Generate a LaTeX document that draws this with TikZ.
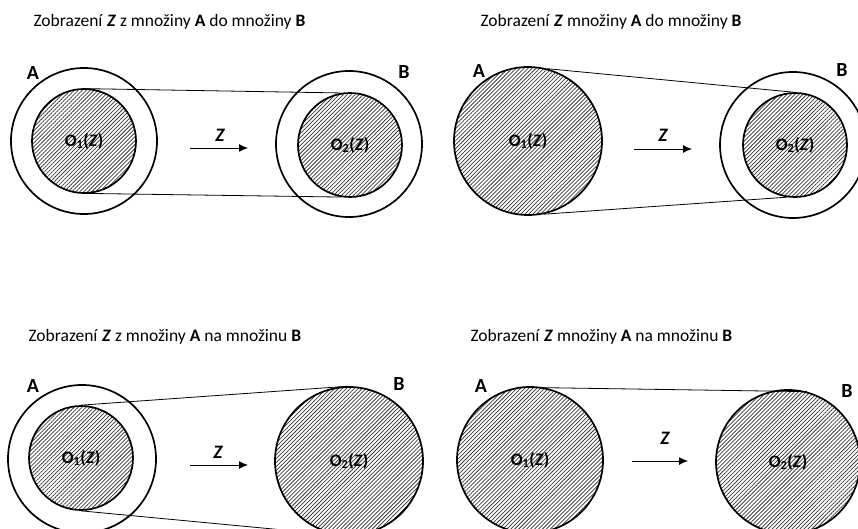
\documentclass[tikz,border=0pt]{standalone}
\usepackage{fontspec}
\setmainfont{Carlito}
\usetikzlibrary{patterns.meta,arrows.meta}
\tikzset{
  ring/.style={circle, draw, line width=1.7pt, inner sep=0pt},
  hatch/.style={circle, draw, line width=1.7pt, inner sep=0pt,
    pattern={Lines[angle=45,distance=2.8pt,line width=0.75pt]}, pattern color=black!78,
    font=\fontsize{17.5}{17.5}\selectfont\bfseries},
  conn/.style={line width=0.8pt},
  maparrow/.style={line width=0.9pt, -{Latex[length=9pt,width=8pt]}},
  zlab/.style={font=\fontsize{19}{19}\selectfont\bfseries\itshape},
  setlab/.style={font=\fontsize{20}{20}\selectfont\bfseries},
  title/.style={anchor=west, font=\fontsize{17.5}{17.5}\selectfont}
}
\newcommand{\Oone}{O\textsubscript{1}(\textit{Z})}
\newcommand{\Otwo}{O\textsubscript{2}(\textit{Z})}
\begin{document}
\begin{tikzpicture}[x=1pt,y=-1pt]
\useasboundingbox (0,0) rectangle (858,529);
\clip (0,0) rectangle (858,529);

% ---------- Panel 1 ----------
\node[title] (t1) at (30,22) {Zobrazení \textbf{\textit{Z}} z množiny \textbf{A} do množiny \textbf{B}};
\node[ring, minimum size=146pt] (A1) at (84,141) {};
\node[ring, minimum size=146pt] (B1) at (349,144) {};
\node[hatch, minimum size=104pt] (O11) at (84,141) {\Oone};
\node[hatch, minimum size=104pt] (O21) at (350,145) {\Otwo};
\draw[conn] (O11.north) -- (O21.100);
\draw[conn] (O11.south) -- (O21.-100);
\coordinate (s1) at (190,148);
\coordinate (e1) at (248,148);
\draw[maparrow] (s1) -- (e1);
\node[zlab] (z1) at (220,135) {Z};
\node[setlab] (la1) at (33,73) {A};
\node[setlab] (lb1) at (404,72) {B};

% ---------- Panel 2 ----------
\node[title] (t2) at (477,22) {Zobrazení \textbf{\textit{Z}} množiny \textbf{A} do množiny \textbf{B}};
\node[ring, minimum size=146pt] (B2) at (793,145) {};
\node[hatch, minimum size=148pt] (A2) at (528,141) {\Oone};
\node[hatch, minimum size=104pt] (O22) at (795,145) {\Otwo};
\draw[conn] (A2.75) -- (O22.92);
\draw[conn] (A2.-78) -- (O22.-99);
\coordinate (s2) at (634,149);
\coordinate (e2) at (692,149);
\draw[maparrow] (s2) -- (e2);
\node[zlab] (z2) at (663,135) {Z};
\node[setlab] (la2) at (479,71) {A};
\node[setlab] (lb2) at (842,70) {B};

% ---------- Panel 3 ----------
\node[title] (t3) at (25,337) {Zobrazení \textbf{\textit{Z}} z množiny \textbf{A} na množinu \textbf{B}};
\node[ring, minimum size=148pt] (A3) at (82,459) {};
\node[hatch, minimum size=104pt] (O13) at (81,458) {\Oone};
\node[hatch, minimum size=148pt] (B3) at (349,461) {\Otwo};
\draw[conn] (O13.north) -- (B3.north);
\draw[conn] (O13.south) -- (B3.-95);
\coordinate (s3) at (190,465);
\coordinate (e3) at (248,465);
\draw[maparrow] (s3) -- (e3);
\node[zlab] (z3) at (218,452) {Z};
\node[setlab] (la3) at (33,386) {A};
\node[setlab] (lb3) at (399,384) {B};

% ---------- Panel 4 ----------
\node[title] (t4) at (467,337) {Zobrazení \textbf{\textit{Z}} množiny \textbf{A} na množinu \textbf{B}};
\node[hatch, minimum size=146pt] (A4) at (530,460) {\Oone};
\node[hatch, minimum size=144pt] (B4) at (788,462) {\Otwo};
\draw[conn] (A4.100) -- (B4.75);
\coordinate (s4) at (632,461);
\coordinate (e4) at (688,461);
\draw[maparrow] (s4) -- (e4);
\node[zlab] (z4) at (665,438) {Z};
\node[setlab] (la4) at (481,386) {A};
\node[setlab] (lb4) at (847,391) {B};
\end{tikzpicture}
\end{document}
